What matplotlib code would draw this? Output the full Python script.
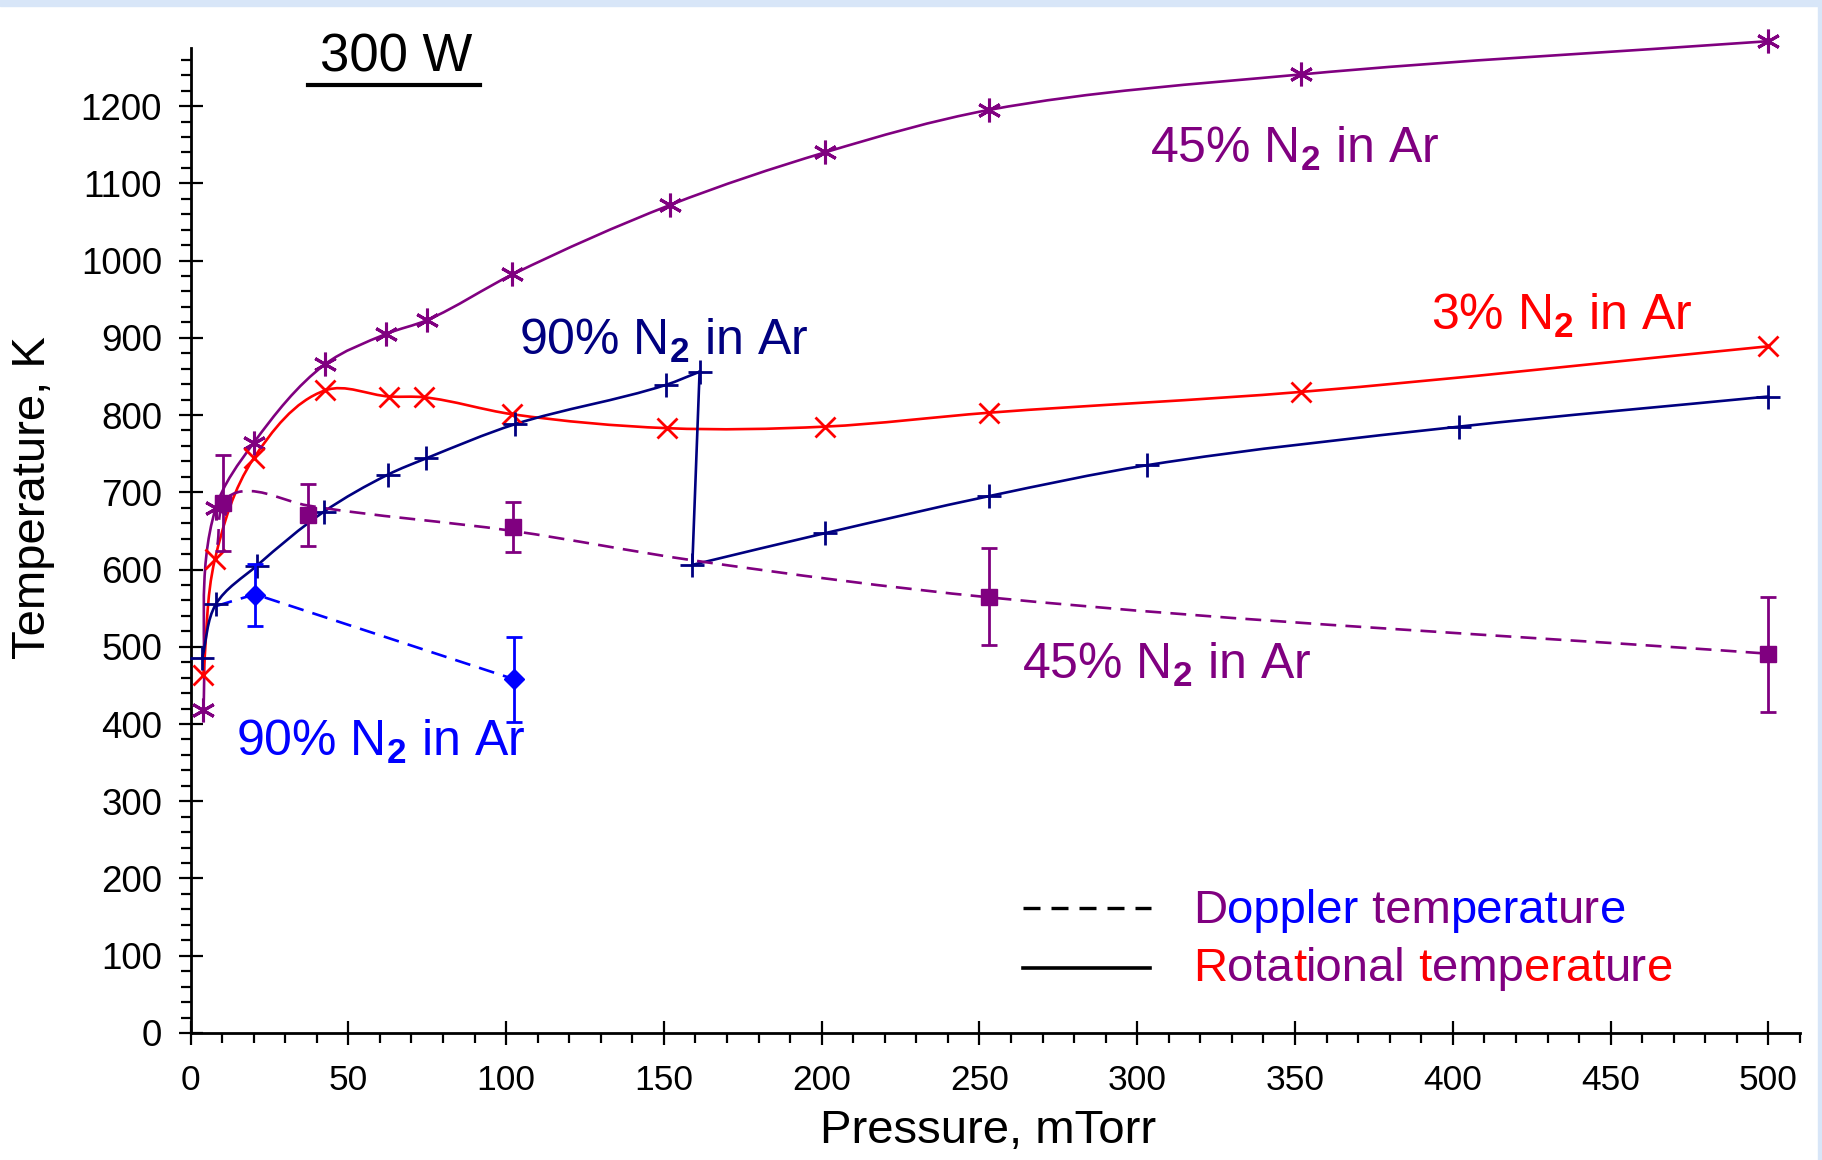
import numpy as np
import matplotlib
matplotlib.use('Agg')
import matplotlib.pyplot as plt
from matplotlib.path import Path
from matplotlib.patches import PathPatch, Rectangle
from matplotlib.lines import Line2D
from matplotlib.ticker import MultipleLocator
from matplotlib import transforms

plt.rcParams['font.family'] = ['Liberation Sans', 'DejaVu Sans']
plt.rcParams['mathtext.fontset'] = 'custom'
plt.rcParams['mathtext.rm'] = 'Liberation Sans'
plt.rcParams['mathtext.bf'] = 'Liberation Sans:bold'

PURPLE = '#800080'
RED = '#ff0000'
NAVY = '#000080'
BLUE = '#0000ff'

# rotational temperature, 45% N2 in Ar
rot45_p = [4, 8, 20, 42.7, 62, 75, 102, 152, 201, 253, 352, 500]
rot45_T = [418, 680, 764, 866, 905, 923, 982, 1072, 1140, 1195, 1241, 1284]

# rotational temperature, 3% N2 in Ar
rot3_p = [4, 7.7, 20, 42.7, 63, 74, 102, 151, 201, 253, 352, 500]
rot3_T = [463, 613, 744, 832, 824, 823, 801, 783, 785, 803, 830, 889]

# rotational temperature, 90% N2 in Ar (two runs)
rot90a_p = [3.7, 8, 21, 42.3, 62.6, 74.7, 102.7, 150.6, 161.3]
rot90a_T = [486, 555, 605, 675, 723, 744, 788, 839, 856]
rot90b_p = [159, 201, 253, 303, 402, 500]
rot90b_T = [606, 647, 695, 735, 785, 824]

# Doppler temperature, 45% N2 in Ar
dop45_p = [10.3, 37.2, 102.2, 253, 500]
dop45_T = [686, 671, 655, 565, 490]
dop45_err = [62, 40, 32, 63, 75]
dop45_fit_p = [8.5, 11, 16, 37, 102, 159, 253, 500]
dop45_fit_T = [632, 690, 701, 683, 650, 612, 564, 491]

# Doppler temperature, 90% N2 in Ar
dop90_p = [20.4, 102.5]
dop90_T = [567, 458]
dop90_err = [40, 55]
dop90_fit_p = [8.3, 20.4, 102.5]
dop90_fit_T = [553, 568, 458]

fig = plt.figure(figsize=(18.22, 11.60), dpi=100)
fig.patches.append(Rectangle((0, 1 - 6 / 1160), 1, 6 / 1160, transform=fig.transFigure,
                             color='#d8e6f8', zorder=0))
fig.patches.append(Rectangle((1 - 4 / 1822, 0), 4 / 1822, 1, transform=fig.transFigure,
                             color='#d8e6f8', zorder=0))

ax = fig.add_axes([0.1046, 0.1095, 0.8833, 0.849])
ax.set_xlim(0, 510)
ax.set_ylim(0, 1275)
for s in ['top', 'right']:
    ax.spines[s].set_visible(False)
for s in ['left', 'bottom']:
    ax.spines[s].set_linewidth(2)

ax.xaxis.set_major_locator(MultipleLocator(50))
ax.xaxis.set_minor_locator(MultipleLocator(10))
ax.yaxis.set_major_locator(MultipleLocator(100))
ax.yaxis.set_minor_locator(MultipleLocator(20))
ax.tick_params(which='major', direction='inout', length=17, width=1.6, labelsize=26.5)
ax.tick_params(which='minor', direction='out', length=7, width=1.6)
ax.tick_params(axis='y', which='major', pad=12)
ax.tick_params(axis='x', which='major', pad=14, labelsize=25.5)

ax.set_xlabel('Pressure, mTorr', fontsize=34)
ax.set_ylabel('Temperature, K', fontsize=34)
ax.xaxis.set_label_coords(0.4956, -0.077)
ax.yaxis.set_label_coords(-0.084, 0.544)


def smooth(xs, ys, **kw):
    # smooth bezier curve through the measured points
    pts = ax.transData.transform(np.column_stack([xs, ys]))
    n = len(pts)
    seg = np.diff(pts, axis=0)
    unit = seg / np.hypot(seg[:, 0], seg[:, 1])[:, None]
    tang = []
    for i in range(n):
        if i == 0:
            d = unit[0]
        elif i == n - 1:
            d = unit[-1]
        else:
            d = unit[i - 1] + unit[i]
        tang.append(d / np.hypot(*d))
    verts = [pts[0]]
    codes = [Path.MOVETO]
    for i in range(n - 1):
        L = np.hypot(*seg[i]) / 3
        verts += [pts[i] + tang[i] * L, pts[i + 1] - tang[i + 1] * L, pts[i + 1]]
        codes += [Path.CURVE4] * 3
    verts = ax.transData.inverted().transform(np.array(verts))
    ax.add_patch(PathPatch(Path(verts, codes), fill=False, transform=ax.transData,
                           clip_on=False, **kw))


lw = 1.9
dash = (0, (6, 3.5))

smooth(rot45_p, rot45_T, edgecolor=PURPLE, lw=lw, zorder=2)
smooth(rot3_p, rot3_T, edgecolor=RED, lw=lw, zorder=2)
smooth(rot90a_p, rot90a_T, edgecolor=NAVY, lw=lw, zorder=2)
ax.plot([rot90a_p[-1], rot90b_p[0]], [rot90a_T[-1], rot90b_T[0]], color=NAVY, lw=lw, zorder=2)
smooth(rot90b_p, rot90b_T, edgecolor=NAVY, lw=lw, zorder=2)
smooth(dop45_fit_p, dop45_fit_T, edgecolor=PURPLE, lw=lw, linestyle=dash, zorder=2)
ax.plot(dop90_fit_p, dop90_fit_T, color=BLUE, lw=lw, linestyle=dash, zorder=2)

ax.plot(rot45_p, rot45_T, ls='none', marker=(6, 2, 0), ms=17, mew=2.2, color=PURPLE,
        clip_on=False, zorder=3)
ax.plot(rot3_p, rot3_T, ls='none', marker='x', ms=14, mew=2, color=RED, clip_on=False, zorder=3)
ax.plot(rot90a_p + rot90b_p, rot90a_T + rot90b_T, ls='none', marker='+', ms=17, mew=2,
        color=NAVY, clip_on=False, zorder=3)
ax.errorbar(dop45_p, dop45_T, yerr=dop45_err, fmt='s', ms=12, color=PURPLE, ecolor=PURPLE,
            elinewidth=2, capsize=6, capthick=2, clip_on=False, zorder=3)
ax.errorbar(dop90_p, dop90_T, yerr=dop90_err, fmt='D', ms=10, color=BLUE, ecolor=BLUE,
            elinewidth=2, capsize=6, capthick=2, clip_on=False, zorder=3)

lab = r'N$_\mathbf{2}$ in Ar'
ax.text(304, 1144, '45% ' + lab, color=PURPLE, fontsize=36, va='center')
ax.text(393, 928, '3% ' + lab, color=RED, fontsize=36, va='center')
ax.text(104, 896, '90% ' + lab, color=NAVY, fontsize=36, va='center')
ax.text(263.6, 477, '45% ' + lab, color=PURPLE, fontsize=36, va='center')
ax.text(14.4, 377, '90% ' + lab, color=BLUE, fontsize=36, va='center')

# title
ax.text(0.128, 0.99, '300 W', transform=ax.transAxes, fontsize=38, ha='center', va='center')
ax.add_line(Line2D([0.073, 0.180], [0.963, 0.963], transform=ax.transAxes, color='black',
                   lw=3, clip_on=False))

# legend
ax.add_line(Line2D([0.517, 0.597], [0.127, 0.127], transform=ax.transAxes, color='black',
                   lw=2.4, linestyle=(0, (5.1, 3.3))))
ax.add_line(Line2D([0.517, 0.596], [0.066, 0.066], transform=ax.transAxes, color='black',
                   lw=2.6))


def rainbow(x, y, pieces):
    renderer = fig.canvas.get_renderer()
    t = ax.transAxes
    for s, c in pieces:
        txt = ax.text(x, y, s, color=c, transform=t, fontsize=34, va='center')
        ex = txt.get_window_extent(renderer)
        t = transforms.offset_copy(txt.get_transform(), fig=fig, x=ex.width, units='dots')


rainbow(0.623, 0.124, [('D', PURPLE), ('oppler', BLUE), (' tem', PURPLE), ('perat', BLUE),
                       ('ur', PURPLE), ('e', BLUE)])
rainbow(0.623, 0.065, [('R', RED), ('ota', PURPLE), ('t', RED), ('ional', PURPLE), (' t', RED),
                       ('emp', PURPLE), ('erat', RED), ('ur', PURPLE), ('e', RED)])

fig.savefig('out.png', dpi=100)
